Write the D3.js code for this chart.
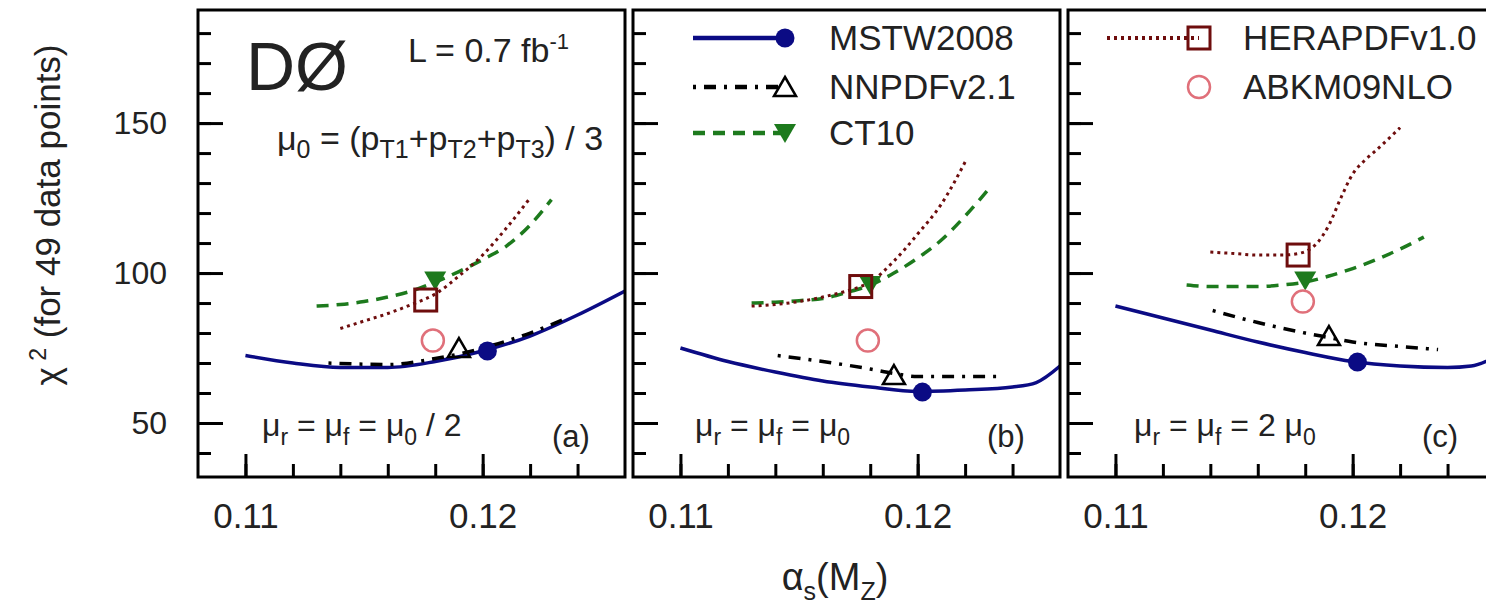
<!DOCTYPE html>
<html>
<head>
<meta charset="utf-8">
<script src="https://cdnjs.cloudflare.com/ajax/libs/d3/7.8.5/d3.min.js"></script>
<style>
  body { margin: 0; background: #fff; }
  svg text { font-family: "Liberation Sans", Arial, sans-serif; fill: #222; }
</style>
</head>
<body>
<div id="chart"></div>
<script>
// tick values
const chi2Labels = [50, 100, 150];
const chi2Minor = d3.range(40, 190, 10);
const alphaLabels = [0.11, 0.12];
const alphaMinor = [0.110, 0.112, 0.114, 0.116, 0.118, 0.120, 0.122, 0.124];

const panelTags = ['(a)', '(b)', '(c)'];

// chi2 vs alpha_s curves, per scale choice  [alpha_s, chi2]
const mstwA = [[0.110, 72.5], [0.112, 70], [0.114, 68.5], [0.116, 68.5], [0.118, 70.5], [0.120, 74], [0.122, 79], [0.124, 86], [0.126, 94]];
const mstwB = [[0.110, 75], [0.112, 70.5], [0.114, 67], [0.116, 64], [0.118, 62], [0.120, 60.5], [0.122, 61], [0.124, 62], [0.125, 63.5], [0.126, 69]];
const mstwC = [[0.110, 89], [0.112, 85], [0.114, 81], [0.116, 77], [0.118, 73.5], [0.120, 70.5], [0.122, 69], [0.124, 68.5], [0.125, 69], [0.126, 72]];

const nnpdfA = [[0.1135, 70], [0.116, 69.5], [0.118, 71.5], [0.119, 73], [0.120, 75], [0.122, 80], [0.1234, 84.5]];
const nnpdfB = [[0.1141, 72.5], [0.116, 70.5], [0.118, 68], [0.119, 66.5], [0.120, 65.5], [0.122, 65.5], [0.1236, 65.5]];
const nnpdfC = [[0.1141, 87.5], [0.116, 83.5], [0.118, 80], [0.119, 78.5], [0.120, 77], [0.122, 75.5], [0.1236, 74.5]];

const ct10A = [[0.113, 89], [0.114, 89.5], [0.115, 90.5], [0.116, 92], [0.117, 94], [0.118, 97], [0.119, 100.5], [0.120, 104.5], [0.121, 109], [0.122, 116], [0.1229, 124.5]];
const ct10B = [[0.113, 90], [0.114, 90.3], [0.115, 90.8], [0.116, 91.5], [0.117, 93.5], [0.118, 96], [0.119, 100], [0.120, 105], [0.121, 111], [0.122, 119], [0.1231, 129]];
const ct10C = [[0.113, 96], [0.114, 95.5], [0.115, 95.5], [0.116, 95.5], [0.117, 96], [0.118, 97], [0.119, 99], [0.120, 101.5], [0.121, 104.5], [0.122, 108], [0.123, 112]];

const heraA = [[0.114, 81.5], [0.115, 84], [0.116, 86.5], [0.117, 89.5], [0.118, 93], [0.119, 99], [0.120, 106], [0.121, 115], [0.122, 125]];
const heraB = [[0.113, 89], [0.114, 89.5], [0.115, 90.5], [0.116, 92], [0.117, 94], [0.1176, 95.5], [0.118, 97], [0.119, 104], [0.120, 113], [0.121, 123], [0.122, 137]];
const heraC = [[0.114, 107], [0.115, 106.5], [0.116, 106], [0.117, 106], [0.1177, 106.5], [0.1185, 110], [0.119, 116], [0.1195, 125], [0.120, 133], [0.1205, 137.5], [0.121, 141], [0.122, 148.5]];

// best-fit alpha_s(M_Z) of each PDF set, one point per panel
const mstwPts = [[0.1202, 74], [0.1202, 60.3], [0.1202, 70.3]];
const nnpdfPts = [[0.119, 75], [0.119, 66], [0.119, 79]];
const ct10Pts = [[0.118, 97.5], [0.118, 96], [0.118, 97.5]];
const heraPts = [[0.1176, 91], [0.1176, 95.5], [0.1177, 106]];
const abkmPts = [[0.1179, 77.5], [0.1179, 77.5], [0.1179, 90.5]];

const width = 1486, height = 610;
const panelX = [198, 633, 1068],
    panelW = 427,
    panelTop = 10,
    panelH = 467;

const navy = '#0b0b84',
    green = '#1d7a1d',
    darkRed = '#6e0d0d',
    salmon = '#e0707a';

const svg = d3.select('#chart').append('svg')
    .attr('width', width)
    .attr('height', height);

const x = d3.scaleLinear().domain([0.108, 0.126]).range([0, panelW]);
const y = d3.scaleLinear().domain([32, 187.7]).range([panelH, 0]);

const line = d3.line()
    .x(function(d) { return x(d[0]); })
    .y(function(d) { return y(d[1]); })
    .curve(d3.curveMonotoneX);

const series = [
    { name: 'MSTW2008', curves: [mstwA, mstwB, mstwC], pts: mstwPts, color: navy, dash: null, w: 3.5, marker: 'circle' },
    { name: 'NNPDFv2.1', curves: [nnpdfA, nnpdfB, nnpdfC], pts: nnpdfPts, color: '#000', dash: '3,8,12,8', w: 3.5, marker: 'triUp' },
    { name: 'CT10', curves: [ct10A, ct10B, ct10C], pts: ct10Pts, color: green, dash: '12,8', w: 3.5, marker: 'triDown' },
    { name: 'HERAPDFv1.0', curves: [heraA, heraB, heraC], pts: heraPts, color: darkRed, dash: '3,4', w: 3, marker: 'square' },
    { name: 'ABKM09NLO', curves: null, pts: abkmPts, color: salmon, dash: null, w: 2.5, marker: 'ring' }
];

function drawMarker(sel, type, cx, cy) {
    if (type == 'circle') {
        sel.append('circle').attr('cx', cx).attr('cy', cy).attr('r', 9.5).attr('fill', navy);
    } else if (type == 'triUp') {
        sel.append('path')
            .attr('d', 'M' + cx + ',' + (cy - 10) + 'L' + (cx + 11) + ',' + (cy + 9) + 'L' + (cx - 11) + ',' + (cy + 9) + 'Z')
            .attr('fill', 'none').attr('stroke', '#000').attr('stroke-width', 2.5);
    } else if (type == 'triDown') {
        sel.append('path')
            .attr('d', 'M' + (cx - 11) + ',' + (cy - 9) + 'L' + (cx + 11) + ',' + (cy - 9) + 'L' + cx + ',' + (cy + 10) + 'Z')
            .attr('fill', green);
    } else if (type == 'square') {
        sel.append('rect').attr('x', cx - 11).attr('y', cy - 11).attr('width', 22).attr('height', 22)
            .attr('fill', 'none').attr('stroke', darkRed).attr('stroke-width', 3);
    } else if (type == 'ring') {
        sel.append('circle').attr('cx', cx).attr('cy', cy).attr('r', 11)
            .attr('fill', 'none').attr('stroke', salmon).attr('stroke-width', 2.5);
    }
}

panelX.forEach(function(px, i) {
    const g = svg.append('g').attr('transform', 'translate(' + px + ',' + panelTop + ')');

    g.append('clipPath').attr('id', 'clip' + i)
        .append('rect').attr('width', panelW).attr('height', panelH);

    const plot = g.append('g').attr('clip-path', 'url(#clip' + i + ')');

    // curves first, markers on top
    series.forEach(function(s) {
        if (!s.curves) return;
        plot.append('path')
            .datum(s.curves[i])
            .attr('d', line)
            .attr('fill', 'none')
            .attr('stroke', s.color)
            .attr('stroke-width', s.w)
            .attr('stroke-dasharray', s.dash);
    });
    series.forEach(function(s) {
        drawMarker(plot, s.marker, x(s.pts[i][0]), y(s.pts[i][1]));
    });

    // ticks inside the frame
    const yMinor = g.append('g').call(d3.axisRight(y).tickValues(chi2Minor).tickSize(13).tickFormat(''));
    const yMajor = g.append('g').call(d3.axisRight(y).tickValues(chi2Labels).tickSize(25).tickFormat(''));
    const xMinor = g.append('g').attr('transform', 'translate(0,' + panelH + ')')
        .call(d3.axisTop(x).tickValues(alphaMinor).tickSize(13).tickFormat(''));
    const xMajor = g.append('g').attr('transform', 'translate(0,' + panelH + ')')
        .call(d3.axisTop(x).tickValues(alphaLabels).tickSize(23).tickFormat(''));
    [yMinor, yMajor, xMinor, xMajor].forEach(function(a) {
        a.select('.domain').remove();
        a.selectAll('.tick line').attr('stroke', '#000').attr('stroke-width', 3);
    });

    // tick labels
    const xl = g.append('g').attr('transform', 'translate(0,' + panelH + ')')
        .call(d3.axisBottom(x).tickValues(alphaLabels).tickSize(0).tickPadding(26).tickFormat(d3.format('.2f')));
    xl.select('.domain').remove();
    xl.selectAll('text').attr('font-size', 35).attr('fill', '#222');

    if (i == 0) {
        const yl = g.append('g')
            .call(d3.axisLeft(y).tickValues(chi2Labels).tickSize(0).tickPadding(31));
        yl.select('.domain').remove();
        yl.selectAll('text').attr('font-size', 32).attr('fill', '#222');
    }

    g.append('rect')
        .attr('width', panelW).attr('height', panelH)
        .attr('fill', 'none').attr('stroke', '#000').attr('stroke-width', 3);

    g.append('text').attr('x', 354).attr('y', 437).attr('font-size', 31).text(panelTags[i]);
});

// scale choice labels
function muText(px, parts) {
    const t = svg.append('text').attr('x', px).attr('y', 436).attr('font-size', 32);
    parts.forEach(function(p) {
        const ts = t.append('tspan').text(p[0]);
        if (p[1]) ts.attr('font-size', 23).attr('dy', 9);
        else ts.attr('dy', p[2] || 0);
    });
}
muText(panelX[0] + 64, [['μ'], ['r', 1], [' = μ', 0, -9], ['f', 1], [' = μ', 0, -9], ['0', 1], [' / 2', 0, -9]]);
muText(panelX[1] + 62, [['μ'], ['r', 1], [' = μ', 0, -9], ['f', 1], [' = μ', 0, -9], ['0', 1]]);
muText(panelX[2] + 66, [['μ'], ['r', 1], [' = μ', 0, -9], ['f', 1], [' = 2 μ', 0, -9], ['0', 1]]);

// panel (a) header
svg.append('text').attr('x', 246).attr('y', 90).attr('font-size', 68).text('DØ');

const lum = svg.append('text').attr('x', 408).attr('y', 62).attr('font-size', 34);
lum.append('tspan').text('L = 0.7 fb');
lum.append('tspan').attr('font-size', 22).attr('dy', -13).text('-1');

const mu0 = svg.append('text').attr('x', 277).attr('y', 150).attr('font-size', 34);
mu0.append('tspan').text('μ');
mu0.append('tspan').attr('font-size', 25).attr('dy', 8).text('0');
mu0.append('tspan').attr('dy', -8).text(' = (p');
mu0.append('tspan').attr('font-size', 25).attr('dy', 8).text('T1');
mu0.append('tspan').attr('dy', -8).text('+p');
mu0.append('tspan').attr('font-size', 25).attr('dy', 8).text('T2');
mu0.append('tspan').attr('dy', -8).text('+p');
mu0.append('tspan').attr('font-size', 25).attr('dy', 8).text('T3');
mu0.append('tspan').attr('dy', -8).text(') / 3');

// legends
const legendRows = [
    { s: series[0], px: panelX[1], y: 38, x1: 60, mx: 152, tx: 196 },
    { s: series[1], px: panelX[1], y: 87, x1: 60, mx: 152, tx: 196 },
    { s: series[2], px: panelX[1], y: 133, x1: 60, mx: 152, tx: 196 },
    { s: series[3], px: panelX[2], y: 38, x1: 39, mx: 131, tx: 175 },
    { s: series[4], px: panelX[2], y: 87, x1: null, mx: 131, tx: 175 }
];
legendRows.forEach(function(r) {
    const lg = svg.append('g').attr('transform', 'translate(' + r.px + ',0)');
    if (r.x1 != null) {
        lg.append('line')
            .attr('x1', r.x1).attr('x2', r.mx).attr('y1', r.y).attr('y2', r.y)
            .attr('stroke', r.s.color).attr('stroke-width', r.s.w + 1)
            .attr('stroke-dasharray', r.s.dash);
    }
    drawMarker(lg, r.s.marker, r.mx, r.y);
    lg.append('text').attr('x', r.tx).attr('y', r.y + 12).attr('font-size', 35).text(r.s.name);
});

// axis titles
const yt = svg.append('text')
    .attr('transform', 'translate(60,215) rotate(-90)')
    .attr('text-anchor', 'middle')
    .attr('font-size', 35);
yt.append('tspan').text('χ');
yt.append('tspan').attr('font-size', 23).attr('dy', -14).text(' 2');
yt.append('tspan').attr('dy', 14).text(' (for 49 data points)');

const xt = svg.append('text').attr('x', 835).attr('y', 590).attr('text-anchor', 'middle').attr('font-size', 38);
xt.append('tspan').text('α');
xt.append('tspan').attr('font-size', 25).attr('dy', 10).text('s');
xt.append('tspan').attr('dy', -10).text('(M');
xt.append('tspan').attr('font-size', 25).attr('dy', 10).text('Z');
xt.append('tspan').attr('dy', -10).text(')');
</script>
</body>
</html>
